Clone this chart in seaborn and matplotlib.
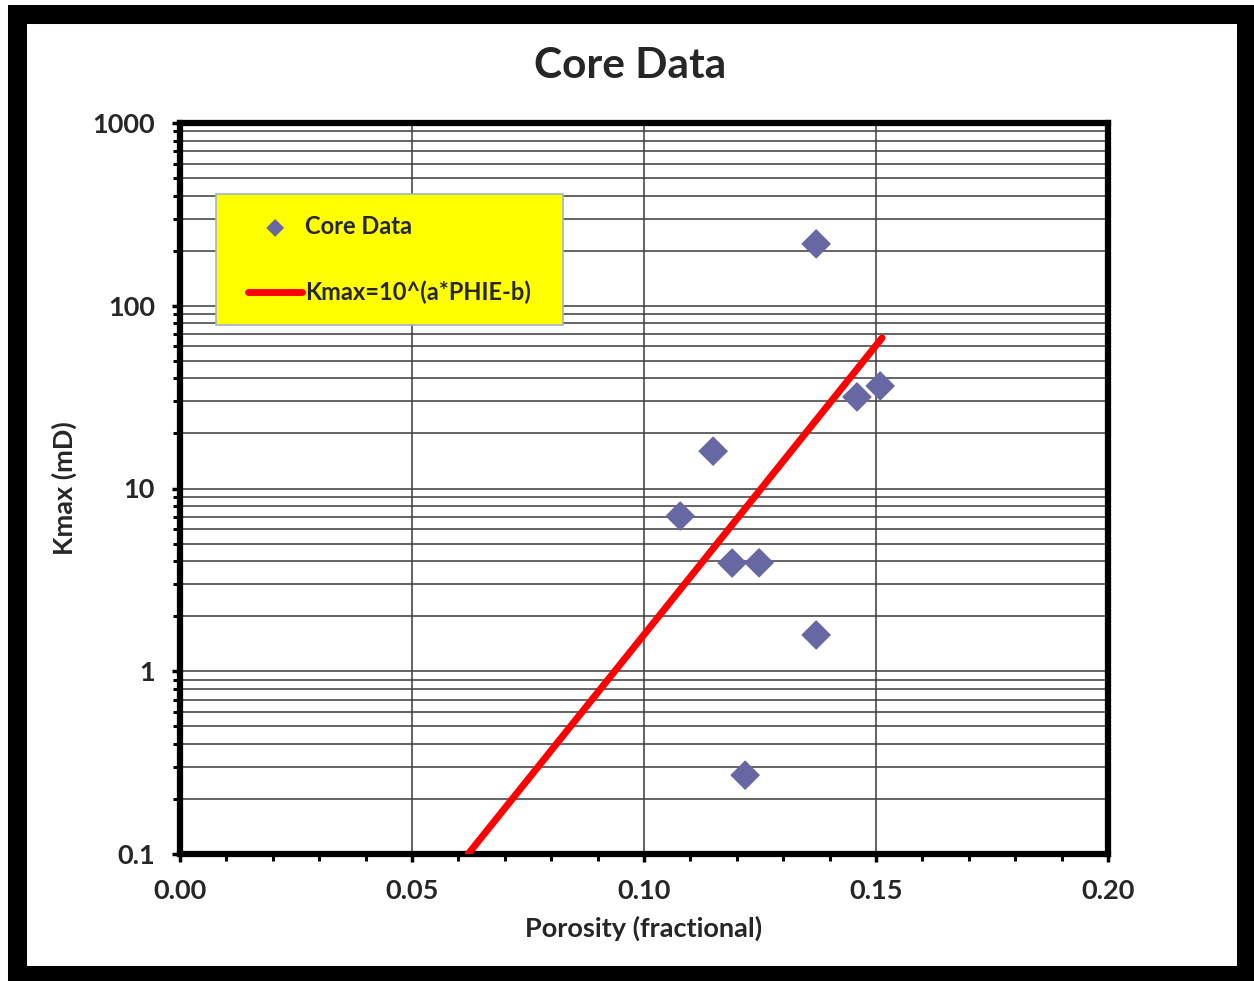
import matplotlib
matplotlib.use("Agg")
import matplotlib.pyplot as plt
import seaborn as sns
import pandas as pd
from matplotlib.patches import Rectangle
from matplotlib.ticker import FixedLocator, LogLocator, FuncFormatter, NullFormatter

# core data
porosity = [0.1371, 0.1459, 0.1509, 0.1149, 0.1078, 0.1190, 0.1248, 0.1371, 0.1218]
kmax = [218, 31.7, 36.4, 16.0, 7.07, 3.91, 3.92, 1.58, 0.27]

# fitted line Kmax=10^(a*PHIE-b), end points
fit_phie = [0.0621, 0.1513]
fit_kmax = [0.1, 66.7]

x_ticks = [0.00, 0.05, 0.10, 0.15, 0.20]
y_ticks = [0.1, 1, 10, 100, 1000]

core_df = pd.DataFrame({"phie": porosity, "kmax": kmax})
fit_df = pd.DataFrame({"phie": fit_phie, "kmax": fit_kmax})

sns.set_style("white")
plt.rcParams["font.family"] = ["Lato", "DejaVu Sans"]
plt.rcParams["font.weight"] = "bold"

fig = plt.figure(figsize=(12.54, 9.81), dpi=100)
ax = fig.add_axes([180 / 1254, 1 - 854 / 981, 928 / 1254, 731 / 981])

ax.set_yscale("log")
ax.set_xlim(0, 0.2)
ax.set_ylim(0.1, 1000)

# grid
ax.xaxis.set_major_locator(FixedLocator(x_ticks))
ax.xaxis.set_minor_locator(FixedLocator([i / 100 for i in range(21)]))
ax.yaxis.set_major_locator(FixedLocator(y_ticks))
ax.yaxis.set_minor_locator(LogLocator(base=10, subs=range(2, 10)))
ax.yaxis.set_minor_formatter(NullFormatter())
ax.xaxis.set_major_formatter(FuncFormatter(lambda v, p: f"{v:.2f}"))
ax.yaxis.set_major_formatter(FuncFormatter(lambda v, p: f"{v:g}"))

ax.grid(True, axis="x", which="major", color="#3a3a3a", linewidth=1.1)
ax.grid(True, axis="y", which="both", color="#3a3a3a", linewidth=1.1)
ax.set_axisbelow(True)

sns.lineplot(data=fit_df, x="phie", y="kmax", ax=ax, color="#ff0000",
             linewidth=5, label="Kmax=10^(a*PHIE-b)", zorder=3)
sns.scatterplot(data=core_df, x="phie", y="kmax", ax=ax, marker="D",
                s=230, color="#6767a3", edgecolor="none", label="Core Data", zorder=4)

for side in ["left", "right", "top", "bottom"]:
    ax.spines[side].set_visible(True)
    ax.spines[side].set_color("black")
    ax.spines[side].set_linewidth(4.5)

ax.tick_params(axis="both", which="major", direction="out", length=6, width=2.5,
               color="black", labelsize=19.5, pad=12)
ax.tick_params(axis="both", which="minor", direction="out", length=5, width=2.2,
               color="black")
ax.tick_params(axis="x", which="both", bottom=True)
ax.tick_params(axis="y", which="both", left=True)
for lbl in ax.get_xticklabels() + ax.get_yticklabels():
    lbl.set_fontweight("bold")

ax.set_xlabel("Porosity (fractional)", fontsize=19.5, fontweight="bold")
ax.set_ylabel("Kmax (mD)", fontsize=19.5, fontweight="bold")
ax.xaxis.set_label_coords(0.5, -0.085)
ax.yaxis.set_label_coords(-0.111, 0.5)

fig.text(630 / 1254, 1 - 66 / 981, "Core Data", ha="center", va="center",
         fontsize=30.5, fontweight="bold")

# yellow legend box
ax.add_patch(Rectangle((0.0388, 0.7237), 0.3739, 0.1792, transform=ax.transAxes,
                       facecolor="#ffff00", edgecolor="#9fb3cc", linewidth=1.2,
                       zorder=4.5))

# legend, scatter first
handles, labels = ax.get_legend_handles_labels()
order = [labels.index("Core Data"), labels.index("Kmax=10^(a*PHIE-b)")]
leg = ax.legend([handles[i] for i in order], [labels[i] for i in order],
                loc="upper left", bbox_to_anchor=(0.0733, 0.874), borderaxespad=0,
                fontsize=17, frameon=False, handlelength=2.3,
                handletextpad=0.1, labelspacing=1.8, borderpad=0, markerscale=0.6)
leg.set_zorder(5)
for t in leg.get_texts():
    t.set_fontweight("bold")

# outer black frame
fig.patches.append(Rectangle((16.5 / 1254, 6.5 / 981), (1245.5 - 16.5) / 1254,
                             (967 - 6.5) / 981, transform=fig.transFigure,
                             fill=False, edgecolor="black", linewidth=13.7))

fig.savefig("out.png", dpi=100)
